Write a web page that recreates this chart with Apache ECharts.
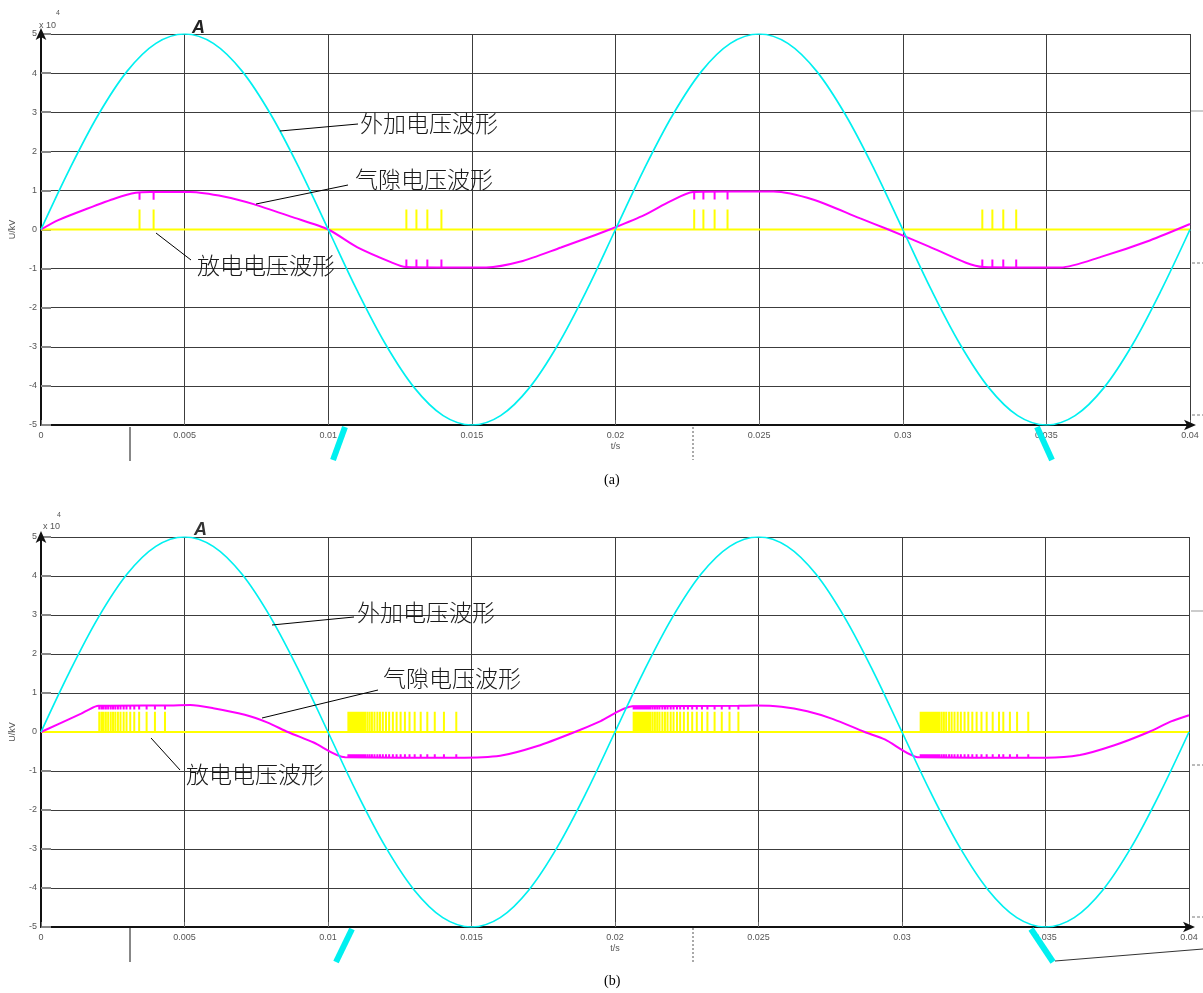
<!DOCTYPE html>
<html>
<head>
<meta charset="utf-8">
<script src="https://cdn.jsdelivr.net/npm/echarts/dist/echarts.min.js"></script>
<style>
html,body{margin:0;padding:0;background:#fff;}
#chart{width:1203px;height:993px;}
</style>
</head>
<body>
<div id="chart"></div>
<script>
// ---------- DATA (voltages in units of 10^4) ----------
const xTickLabels = ['0','0.005','0.01','0.015','0.02','0.025','0.03','0.035','0.04'];
const yTickLabels = ['-5','-4','-3','-2','-1','0','1','2','3','4','5'];

// time grid for applied voltage samples (s)
const timeGrid = [0,0.001,0.002,0.003,0.004,0.005,0.006,0.007,0.008,0.009,
  0.010,0.011,0.012,0.013,0.014,0.015,0.016,0.017,0.018,0.019,
  0.020,0.021,0.022,0.023,0.024,0.025,0.026,0.027,0.028,0.029,
  0.030,0.031,0.032,0.033,0.034,0.035,0.036,0.037,0.038,0.039,0.040];
// applied voltage (cyan), same in (a) and (b)
const appliedVoltage = [0,1.55,2.94,4.05,4.76,5,4.76,4.05,2.94,1.55,
  0,-1.55,-2.94,-4.05,-4.76,-5,-4.76,-4.05,-2.94,-1.55,
  0,1.55,2.94,4.05,4.76,5,4.76,4.05,2.94,1.55,
  0,-1.55,-2.94,-4.05,-4.76,-5,-4.76,-4.05,-2.94,-1.55,0];

// gap voltage base curve (magenta), (a)
const gapBaseA = [[0,0],[0.0006,0.24],[0.0016,0.53],[0.0026,0.8],[0.0033,0.94],[0.0038,0.96],
  [0.0052,0.96],[0.0064,0.84],[0.0074,0.65],[0.0087,0.33],[0.01,0],[0.011,-0.45],[0.0122,-0.84],[0.0127,-0.96],
  [0.014,-0.97],[0.0155,-0.97],[0.0167,-0.82],[0.0181,-0.46],[0.0193,-0.14],[0.0198,0],[0.021,0.37],[0.0219,0.72],[0.0227,0.96],
  [0.024,0.97],[0.0255,0.97],[0.0269,0.76],[0.0285,0.29],[0.0295,0],[0.0309,-0.43],[0.0322,-0.85],[0.0328,-0.96],
  [0.034,-0.97],[0.0355,-0.97],[0.0369,-0.7],[0.0386,-0.28],[0.04,0.14]];
// discharge times (s), (a)
const pulsesA_pos1 = [0.00343,0.00392];
const pulsesA_neg1 = [0.01272,0.01307,0.01345,0.01394];
const pulsesA_pos2 = [0.02274,0.02306,0.02345,0.0239];
const pulsesA_neg2 = [0.03277,0.03312,0.0335,0.03395];
const plateauA = [0.96,-0.97,0.97,-0.97];
const notchA = 0.2;
const pulseHeightA = 0.51;

// gap voltage base curve (magenta), (b)
const gapBaseB = [[0,0],[0.0014,0.47],[0.0016,0.55],[0.002,0.67],
  [0.0045,0.68],[0.0052,0.69],[0.006,0.61],[0.0071,0.44],[0.0079,0.24],[0.0086,0],[0.0095,-0.27],[0.0106,-0.65],
  [0.0145,-0.66],[0.016,-0.61],[0.0173,-0.36],[0.0186,0],[0.0195,0.28],[0.0206,0.66],
  [0.0243,0.67],[0.0249,0.68],[0.0258,0.65],[0.0267,0.53],[0.0276,0.33],[0.0287,0],[0.0294,-0.19],[0.0306,-0.65],
  [0.0344,-0.66],[0.035,-0.66],[0.0362,-0.59],[0.0374,-0.34],[0.0386,0],[0.0394,0.28],[0.04,0.43]];
// discharge times (s), (b)
const pulsesB_pos1 = [0.00203,0.00211,0.00218,0.00226,0.00234,0.00243,0.00251,0.00259,0.00268,
  0.00277,0.00288,0.00298,0.00311,0.00325,0.00342,0.00368,0.00397,0.00432];
const pulsesB_neg1 = [0.01071,0.01077,0.01082,0.01088,0.01094,0.01101,0.01108,0.01115,0.01122,0.01129,
  0.01137,0.01145,0.01153,0.01162,0.01172,0.01181,0.01191,0.01202,0.01213,0.01226,
  0.01239,0.01253,0.01268,0.01284,0.01302,0.01323,0.01346,0.01372,0.01404,0.01447];
const pulsesB_pos2 = [0.02065,0.02071,0.02077,0.02082,0.02088,0.02095,0.02102,0.02109,0.02116,0.02123,
  0.02131,0.02139,0.02147,0.02155,0.02165,0.02174,0.02183,0.02194,0.02204,0.02216,
  0.02227,0.0224,0.02254,0.02269,0.02285,0.02303,0.02322,0.02347,0.02372,0.02399,0.0243];
const pulsesB_neg2 = [0.03065,0.03071,0.03077,0.03082,0.03088,0.03095,0.03102,0.03109,0.03116,0.03123,
  0.0313,0.03138,0.03146,0.03154,0.03164,0.03173,0.03183,0.03194,0.03205,0.03218,
  0.03231,0.03245,0.0326,0.03277,0.03295,0.03316,0.03338,0.03353,0.03376,0.03401,0.0344];
const plateauB = [0.67,-0.66,0.67,-0.66];
const notchB = 0.09;
const pulseHeightB = 0.52;

const seriesNames = ['外加电压波形','气隙电压波形','放电电压波形'];

// ---------- BUILD ----------
function buildApplied(){ return timeGrid.map((t,i)=>[t, appliedVoltage[i]]); }
function buildPulses(groups, h){
  const d=[[0,0],[0.04,0],[0.04,'-']];
  groups.forEach(g=>g.forEach(t=>{ d.push([t,0],[t,h],[t,'-']); }));
  return d;
}
function buildNotches(groups, levels, notch){
  const d=[];
  groups.forEach((g,k)=>{
    const lv = levels[k];
    const dir = lv > 0 ? -1 : 1;
    g.forEach(t=>{ d.push([t,lv],[t,lv+dir*notch],[t,'-']); });
  });
  return d;
}

const groupsA = [pulsesA_pos1,pulsesA_neg1,pulsesA_pos2,pulsesA_neg2];
const groupsB = [pulsesB_pos1,pulsesB_neg1,pulsesB_pos2,pulsesB_neg2];
const dataA = {
  applied: buildApplied(),
  gap: gapBaseA,
  notch: buildNotches(groupsA,plateauA,notchA),
  pulse: buildPulses(groupsA,pulseHeightA)
};
const dataB = {
  applied: buildApplied(),
  gap: gapBaseB,
  notch: buildNotches(groupsB,plateauB,notchB),
  pulse: buildPulses(groupsB,pulseHeightB)
};

const labelFont = 'Liberation Sans, Arial, sans-serif';
const cjkFont = 'Noto Sans CJK SC, sans-serif';

function xAxisCfg(gi){
  return {
    type:'value', gridIndex:gi, min:0, max:0.04, interval:0.005,
    name:'t/s', nameLocation:'middle', nameGap:17,
    nameTextStyle:{fontSize:9, color:'#555', fontFamily:labelFont},
    axisLine:{show:true, onZero:false, lineStyle:{color:'#111', width:2}, symbol:['none','arrow'], symbolSize:[8,12], symbolOffset:[0,6]},
    axisTick:{show:true, inside:true, length:5, lineStyle:{color:'#666', width:1}},
    axisLabel:{fontSize:9, color:'#555', margin:6, fontFamily:labelFont,
      formatter:(v)=>{ const i=Math.round(v/0.005); return xTickLabels[i]; }},
    splitLine:{show:true, lineStyle:{color:'#3c3c3c', width:1}}
  };
}
function yAxisCfg(gi){
  return {
    type:'value', gridIndex:gi, min:-5, max:5, interval:1,
    name:'U/kV', nameLocation:'middle', nameGap:24,
    nameTextStyle:{fontSize:9, color:'#555', fontFamily:labelFont},
    axisLine:{show:true, onZero:false, lineStyle:{color:'#111', width:2}, symbol:['none','arrow'], symbolSize:[8,12], symbolOffset:[0,6]},
    axisTick:{show:true, inside:true, length:10, lineStyle:{color:'#888', width:2}},
    axisLabel:{fontSize:9, color:'#555', margin:4, fontFamily:labelFont,
      formatter:(v)=>yTickLabels[Math.round(v)+5]},
    splitLine:{show:true, lineStyle:{color:'#3c3c3c', width:1}}
  };
}
function seriesFor(gi, d){
  const common = {type:'line', xAxisIndex:gi, yAxisIndex:gi, showSymbol:false, animation:false, connectNulls:false};
  return [
    Object.assign({name:seriesNames[2], data:d.pulse, lineStyle:{color:'#ffff00', width:2}, z:2}, common),
    Object.assign({name:seriesNames[1], data:d.gap, smooth:0.25, lineStyle:{color:'#ff00ff', width:2}, z:3}, common),
    Object.assign({name:seriesNames[1]+'-notch', data:d.notch, lineStyle:{color:'#ff00ff', width:2}, z:3}, common),
    Object.assign({name:seriesNames[0], data:d.applied, smooth:0.35, lineStyle:{color:'#00f0f0', width:1.7}, z:4}, common)
  ];
}

function annText(x,y,txt){
  return {type:'text', left:x, top:y-12, z:100, style:{text:txt, fill:'#1a1a1a', font:'300 23px ' + cjkFont}};
}
function lineG(x1,y1,x2,y2,color,w,dash){
  return {type:'line', z:100, shape:{x1:x1,y1:y1,x2:x2,y2:y2}, style:{stroke:color||'#000', lineWidth:w||1, lineDash:dash||null}};
}
function smallText(x,y,txt,size,color,font){
  return {type:'text', left:x, top:y, z:100, style:{text:txt, fill:color||'#555', font:(size||9)+'px '+(font||labelFont)}};
}

const graphics = [
  // (a) annotations
  annText(360,124,seriesNames[0]), lineG(280,131,358,124,'#000',1),
  annText(355,180,seriesNames[1]), lineG(256,204,348,185,'#000',1),
  annText(197,266,seriesNames[2]), lineG(156,233,191,260,'#000',1),
  // (b) annotations
  annText(357,613,seriesNames[0]), lineG(272,625,354,617,'#000',1),
  annText(383,679,seriesNames[1]), lineG(262,718,378,690,'#000',1),
  annText(186,775,seriesNames[2]), lineG(151,738,180,770,'#000',1),
  // exponent labels
  smallText(39,21,'x 10',9,'#555'), smallText(56,10,'4',7,'#555'),
  smallText(43,522,'x 10',9,'#555'), smallText(57,512,'4',7,'#555'),
  // captions
  {type:'text', left:604, top:473, z:100, style:{text:'(a)', fill:'#000', font:'14px Liberation Serif, Times New Roman, serif'}},
  {type:'text', left:604, top:974, z:100, style:{text:'(b)', fill:'#000', font:'14px Liberation Serif, Times New Roman, serif'}},
  // scan artifacts
  {type:'text', left:192, top:19, z:100, style:{text:'A', fill:'#222', font:'italic bold 18px Liberation Sans, Arial'}},
  {type:'text', left:194, top:521, z:100, style:{text:'A', fill:'#333', font:'italic bold 18px Liberation Sans, Arial'}},
  lineG(345,427,333,460,'#00f0f0',6), lineG(1037,427,1052,460,'#00f0f0',6),
  lineG(352,929,336,962,'#00f0f0',6), lineG(1031,929,1053,962,'#00f0f0',6),
  lineG(1055,961,1203,949,'#333',1),
  lineG(130,427,130,461,'#111',1), lineG(130,928,130,962,'#111',1),
  lineG(693,427,693,460,'#555',1,[2,2]), lineG(693,928,693,962,'#555',1,[2,2]),
  lineG(1191,111,1203,111,'#999',1), lineG(1192,263,1203,263,'#777',1,[3,2]), lineG(1192,415,1203,415,'#777',1,[3,2]),
  lineG(1191,611,1203,611,'#999',1), lineG(1192,765,1203,765,'#777',1,[3,2]), lineG(1192,917,1203,917,'#777',1,[3,2])
];

const chart = echarts.init(document.getElementById('chart'), null, {renderer:'canvas'});
chart.setOption({
  backgroundColor:'#fff',
  animation:false,
  grid:[
    {left:39, top:34, width:1151, height:391},
    {left:40, top:537, width:1149, height:390}
  ],
  xAxis:[xAxisCfg(0), xAxisCfg(1)],
  yAxis:[yAxisCfg(0), yAxisCfg(1)],
  series:[...seriesFor(0,dataA), ...seriesFor(1,dataB)],
  graphic:graphics
});
</script>
</body>
</html>
